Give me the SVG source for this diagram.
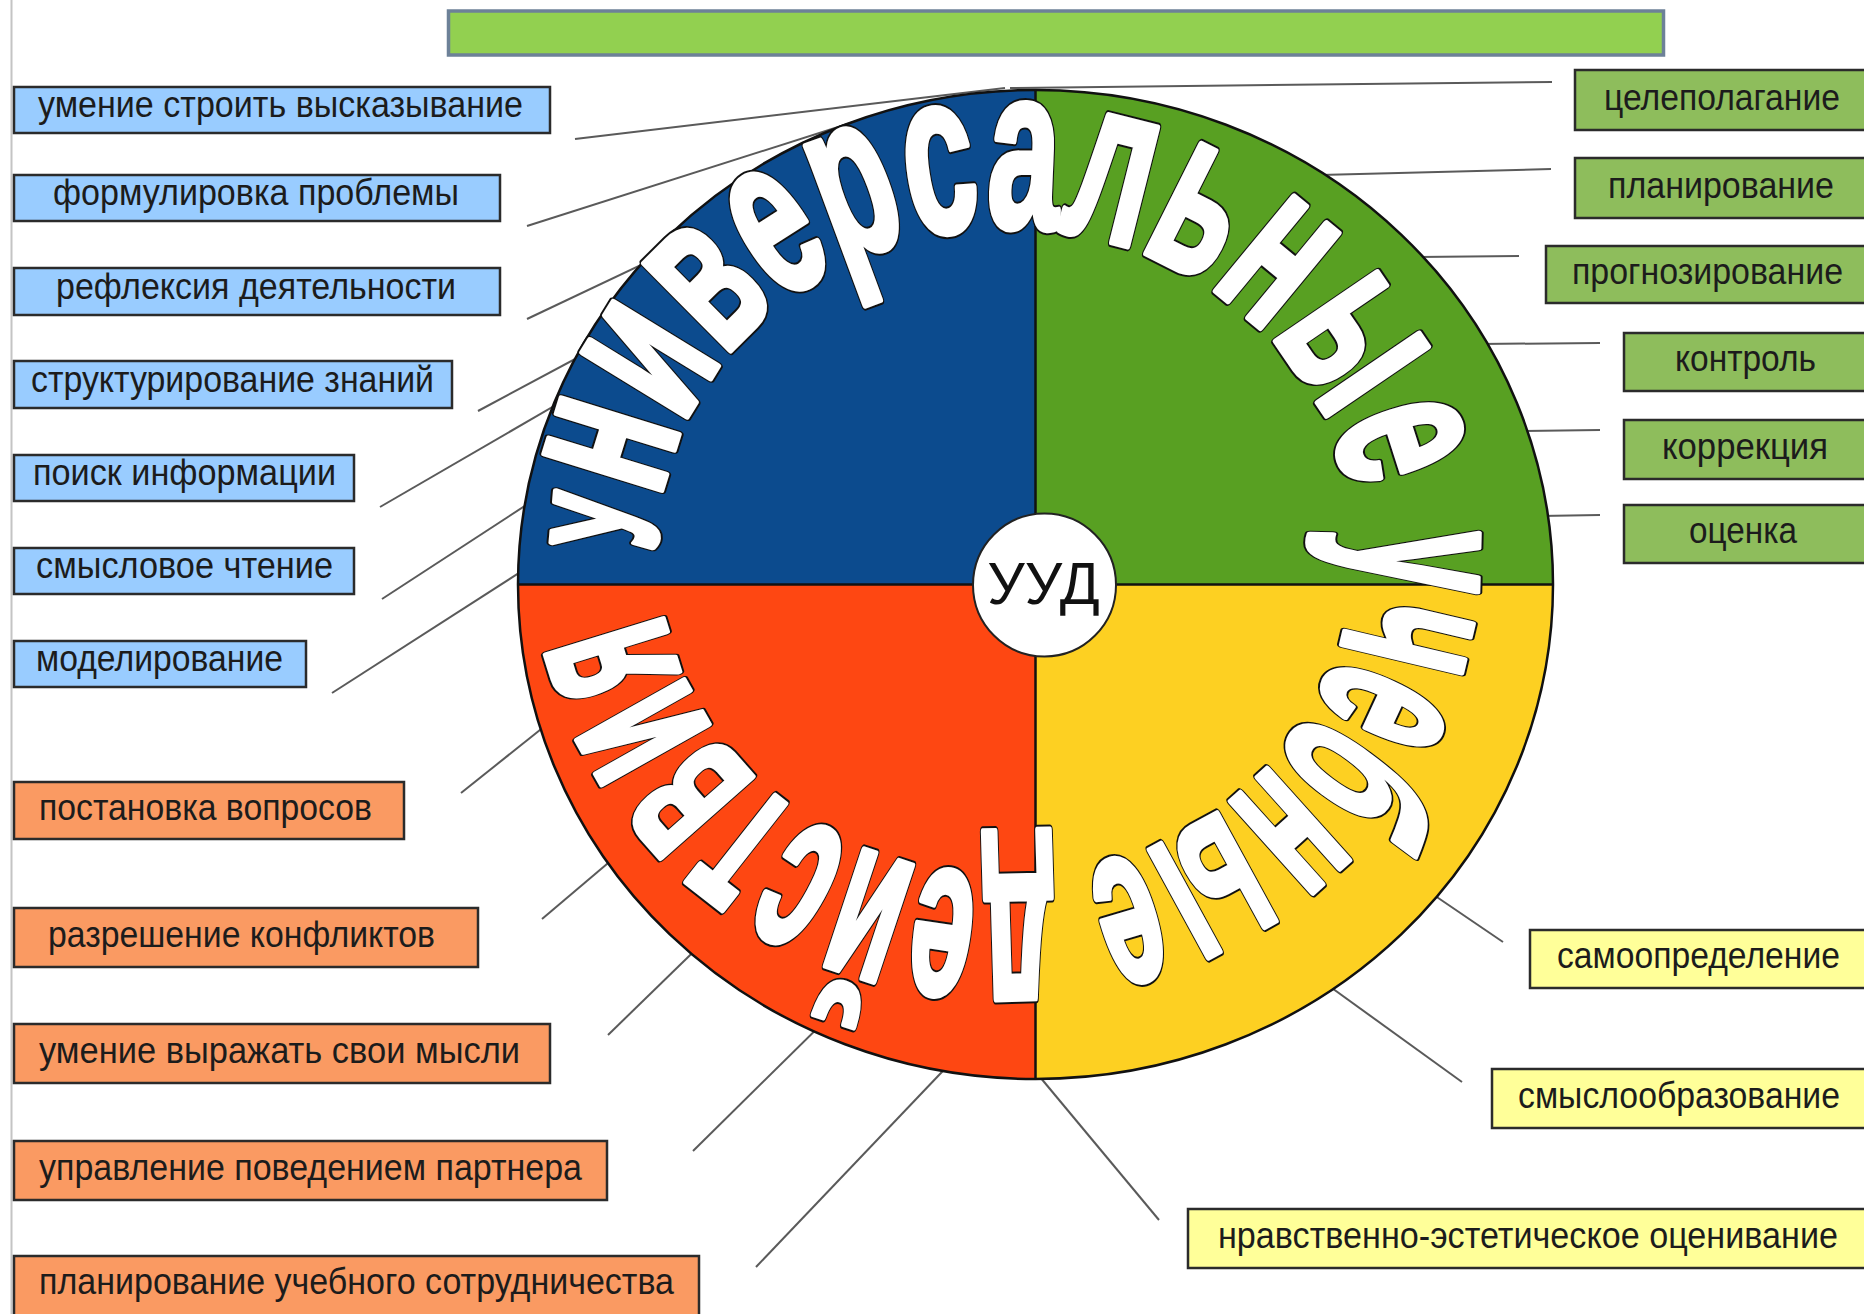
<svg xmlns="http://www.w3.org/2000/svg" xmlns:xlink="http://www.w3.org/1999/xlink" width="1864" height="1314" viewBox="0 0 1864 1314">
<style>
  .box rect { stroke: #2b2b2b; stroke-width: 2.5; }
  .box text { font-family: "Liberation Sans", Arial, sans-serif; font-size: 36px; fill: #1c1c1c; }
  .blue rect { fill: #99ccff; }
  .orange rect { fill: #fa9a62; }
  .green rect { fill: #8ebd5c; }
  .yellow rect { fill: #ffff99; }
  #connectors line { stroke: #5a5a5a; stroke-width: 2; }
  .div { stroke: #111; stroke-width: 2.5; fill: none; }
</style>
<defs>
  <path id="arcPath" d="M 656 552 A 350 325 0 1 1 1356 552 A 350 325 0 1 1 656 552" fill="none"/>
</defs>
<rect x="0" y="0" width="1864" height="1314" fill="#ffffff"/>
<line x1="11.5" y1="0" x2="11.5" y2="1314" stroke="#c4c4c4" stroke-width="2"/>

<g id="header">
  <rect x="448.5" y="11" width="1215" height="44" fill="#92d050" stroke="#6d8198" stroke-width="3.5"/>
</g>

<g id="connectors">
  <line x1="575" y1="139" x2="1005" y2="88"/>
  <line x1="527" y1="226" x2="860" y2="120"/>
  <line x1="527" y1="319" x2="700" y2="237"/>
  <line x1="478" y1="411" x2="620" y2="335"/>
  <line x1="380" y1="507" x2="580" y2="391"/>
  <line x1="382" y1="599" x2="560" y2="483"/>
  <line x1="332" y1="693" x2="550" y2="553"/>
  <line x1="461" y1="793" x2="570" y2="706"/>
  <line x1="542" y1="919" x2="640" y2="836"/>
  <line x1="608" y1="1035" x2="720" y2="926"/>
  <line x1="693" y1="1151" x2="840" y2="1006"/>
  <line x1="756" y1="1267" x2="960" y2="1053"/>
  <line x1="1552" y1="82" x2="1010" y2="88"/>
  <line x1="1551" y1="169" x2="1320" y2="175"/>
  <line x1="1519" y1="256" x2="1418" y2="257"/>
  <line x1="1600" y1="343" x2="1480" y2="344"/>
  <line x1="1600" y1="430" x2="1520" y2="431"/>
  <line x1="1600" y1="515" x2="1540" y2="516"/>
  <line x1="1503" y1="942" x2="1400" y2="872"/>
  <line x1="1462" y1="1082" x2="1300" y2="965"/>
  <line x1="1159" y1="1220" x2="1030" y2="1065"/>
</g>

<g id="wheel">
  <path d="M 1035.5 584.5 L 518 584.5 A 517.5 494.5 0 0 1 1035.5 90 Z" fill="#0c4b8e"/>
  <path d="M 1035.5 584.5 L 1035.5 90 A 517.5 494.5 0 0 1 1553 584.5 Z" fill="#58a022"/>
  <path d="M 1035.5 584.5 L 1553 584.5 A 517.5 494.5 0 0 1 1035.5 1079 Z" fill="#fdd022"/>
  <path d="M 1035.5 584.5 L 1035.5 1079 A 517.5 494.5 0 0 1 518 584.5 Z" fill="#fe4712"/>
  <ellipse class="div" cx="1035.5" cy="584.5" rx="517.5" ry="494.5"/>
  <line class="div" x1="518" y1="584.5" x2="1553" y2="584.5"/>
  <line class="div" x1="1035.5" y1="90" x2="1035.5" y2="1079"/>
</g>

<g id="title-arc">
  <use xlink:href="#arcText" href="#arcText" fill="#ffffff" stroke="#111111" stroke-width="11" stroke-linejoin="round"/>
  <g fill="#ffffff" stroke="#ffffff" stroke-width="7" stroke-linejoin="round">
    <text id="arcText" font-family="Liberation Sans, Arial, sans-serif" font-weight="bold" font-size="230"><textPath xlink:href="#arcPath" href="#arcPath" startOffset="0" textLength="1002" lengthAdjust="spacingAndGlyphs"><tspan font-size="150">У</tspan>ниверсальные</textPath> <textPath xlink:href="#arcPath" href="#arcPath" startOffset="1037" textLength="477" lengthAdjust="spacingAndGlyphs">учебные</textPath> <textPath xlink:href="#arcPath" href="#arcPath" startOffset="1544" textLength="518" lengthAdjust="spacingAndGlyphs">действия</textPath></text>
  </g>
</g>

<g id="center-uud">
  <circle cx="1044.5" cy="585" r="71.5" fill="#ffffff" stroke="#222" stroke-width="2"/>
  <text x="1043.5" y="604" font-family="Liberation Sans, Arial, sans-serif" font-size="59" fill="#111" text-anchor="middle">УУД</text>
</g>

<g id="n-vyskazyvanie" class="box blue"><rect x="14" y="87" width="536" height="46"/><text x="38" y="117" textLength="485" lengthAdjust="spacingAndGlyphs">умение строить высказывание</text></g>
<g id="n-formulirovka" class="box blue"><rect x="14" y="175" width="486" height="46"/><text x="53" y="205" textLength="406" lengthAdjust="spacingAndGlyphs">формулировка проблемы</text></g>
<g id="n-refleksiya" class="box blue"><rect x="14" y="268" width="486" height="47"/><text x="56" y="299" textLength="400" lengthAdjust="spacingAndGlyphs">рефлексия деятельности</text></g>
<g id="n-strukturirovanie" class="box blue"><rect x="14" y="361" width="438" height="47"/><text x="31" y="392" textLength="403" lengthAdjust="spacingAndGlyphs">структурирование знаний</text></g>
<g id="n-poisk" class="box blue"><rect x="14" y="455" width="340" height="46"/><text x="33" y="485" textLength="303" lengthAdjust="spacingAndGlyphs">поиск информации</text></g>
<g id="n-chtenie" class="box blue"><rect x="14" y="548" width="340" height="46"/><text x="36" y="578" textLength="297" lengthAdjust="spacingAndGlyphs">смысловое чтение</text></g>
<g id="n-modelirovanie" class="box blue"><rect x="14" y="641" width="292" height="46"/><text x="36" y="671" textLength="247" lengthAdjust="spacingAndGlyphs">моделирование</text></g>

<g id="n-voprosy" class="box orange"><rect x="14" y="782" width="390" height="57"/><text x="39" y="820" textLength="333" lengthAdjust="spacingAndGlyphs">постановка вопросов</text></g>
<g id="n-konflikty" class="box orange"><rect x="14" y="908" width="464" height="59"/><text x="48" y="947" textLength="387" lengthAdjust="spacingAndGlyphs">разрешение конфликтов</text></g>
<g id="n-mysli" class="box orange"><rect x="14" y="1024" width="536" height="59"/><text x="39" y="1063" textLength="481" lengthAdjust="spacingAndGlyphs">умение выражать свои мысли</text></g>
<g id="n-partner" class="box orange"><rect x="14" y="1141" width="593" height="59"/><text x="39" y="1180" textLength="543" lengthAdjust="spacingAndGlyphs">управление поведением партнера</text></g>
<g id="n-sotrudnichestvo" class="box orange"><rect x="14" y="1256" width="685" height="64"/><text x="39" y="1294" textLength="635" lengthAdjust="spacingAndGlyphs">планирование учебного сотрудничества</text></g>

<g id="n-celepolaganie" class="box green"><rect x="1575" y="70" width="292" height="60"/><text x="1604" y="110" textLength="236" lengthAdjust="spacingAndGlyphs">целеполагание</text></g>
<g id="n-planirovanie" class="box green"><rect x="1575" y="158" width="292" height="60"/><text x="1608" y="198" textLength="226" lengthAdjust="spacingAndGlyphs">планирование</text></g>
<g id="n-prognozirovanie" class="box green"><rect x="1546" y="246" width="321" height="57"/><text x="1572" y="284" textLength="271" lengthAdjust="spacingAndGlyphs">прогнозирование</text></g>
<g id="n-kontrol" class="box green"><rect x="1624" y="333" width="243" height="58"/><text x="1675" y="371" textLength="141" lengthAdjust="spacingAndGlyphs">контроль</text></g>
<g id="n-korrekciya" class="box green"><rect x="1624" y="420" width="243" height="59"/><text x="1662" y="459" textLength="166" lengthAdjust="spacingAndGlyphs">коррекция</text></g>
<g id="n-ocenka" class="box green"><rect x="1624" y="505" width="243" height="58"/><text x="1689" y="543" textLength="108" lengthAdjust="spacingAndGlyphs">оценка</text></g>

<g id="n-samoopredelenie" class="box yellow"><rect x="1530" y="930" width="337" height="58"/><text x="1557" y="968" textLength="283" lengthAdjust="spacingAndGlyphs">самоопределение</text></g>
<g id="n-smysloobrazovanie" class="box yellow"><rect x="1492" y="1069" width="375" height="59"/><text x="1518" y="1108" textLength="322" lengthAdjust="spacingAndGlyphs">смыслообразование</text></g>
<g id="n-ocenivanie" class="box yellow"><rect x="1188" y="1209" width="679" height="59"/><text x="1218" y="1248" textLength="620" lengthAdjust="spacingAndGlyphs">нравственно-эстетическое оценивание</text></g>
</svg>
